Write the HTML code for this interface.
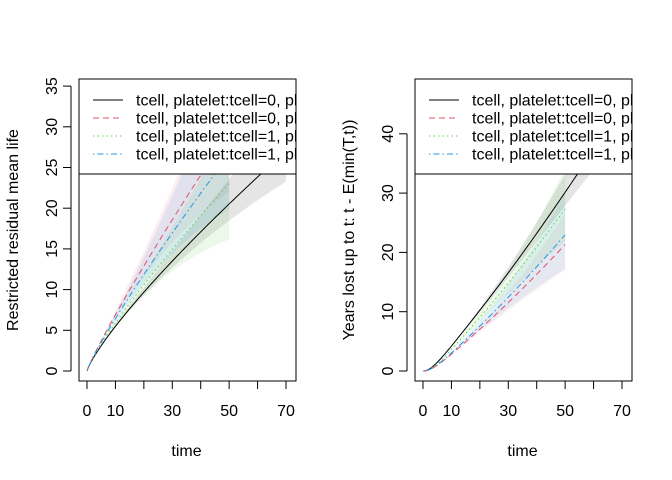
<!DOCTYPE html>
<html><head><meta charset="utf-8"><style>body{margin:0;background:#fff}svg{display:block}text{font-family:"Liberation Sans",sans-serif;fill:#000}</style></head>
<body>
<svg id="s" width="672" height="480" xmlns="http://www.w3.org/2000/svg">
<defs>
<clipPath id="c1"><rect x="79" y="79" width="217" height="302"/></clipPath>
<clipPath id="c2"><rect x="415" y="79" width="217" height="302"/></clipPath>
</defs>
<g id="g1" clip-path="url(#c1)"></g>
<g id="g2" clip-path="url(#c2)"></g>
<g id="ax"></g>
</svg>
<script>
const NS="http://www.w3.org/2000/svg";
function el(p,t,a,txt){const e=document.createElementNS(NS,t);for(const k in a)e.setAttribute(k,a[k]);if(txt!==undefined)e.textContent=txt;p.appendChild(e);return e;}
const ax=document.getElementById('ax');
function panel(g,x0,x1,y0v,ppu,yticks,ylab,series,legBot){
  const X=t=>x0+t*(x1-x0)/70, Y=v=>371-v*ppu;
  series.forEach(s=>{
    let up=[],lo=[];
    for(let t=0;t<=s.tmax;t+=1){up.push(X(t)+','+Y(s.hi(t)));lo.unshift(X(t)+','+Y(s.lo(t)));}
    el(g,'polygon',{points:up.concat(lo).join(' '),fill:s.band,'fill-opacity':s.op||0.18,stroke:'none'});
  });
  series.forEach(s=>{
    let p=[];for(let t=0;t<=s.tmax;t+=0.5)p.push(X(t)+','+Y(s.f(t)));
    el(g,'polyline',{points:p.join(' '),fill:'none',stroke:s.col,'stroke-width':1,'stroke-dasharray':s.dash||'none'});
  });
  el(g,'rect',{x:79+(x0-87),y:70,width:300,height:legBot-70,fill:'#fff',stroke:'#000','stroke-width':1});
  const L=x0-87;
  const labs=["tcell, platelet:tcell=0, platelet=0","tcell, platelet:tcell=0, platelet=1","tcell, platelet:tcell=1, platelet=0","tcell, platelet:tcell=1, platelet=1"];
  series.forEach((s,i)=>{const y=100+i*18;
    el(g,'line',{x1:93+L,x2:123+L,y1:y,y2:y,stroke:s.col,'stroke-dasharray':s.dash||'none'});
    el(g,'text',{x:136+L,y:y+5.5,'font-size':'16'},labs[i]);});
  el(ax,'rect',{x:79+L,y:79,width:217,height:302,fill:'none',stroke:'#000'});
  el(ax,'line',{x1:X(0),x2:X(70),y1:381,y2:381,stroke:'#000'});
  for(let t=0;t<=70;t+=10)el(ax,'line',{x1:X(t),x2:X(t),y1:381,y2:389,stroke:'#000'});
  [0,10,30,50,70].forEach(t=>el(ax,'text',{x:X(t),y:416,'font-size':'16','text-anchor':'middle'},t));
  el(ax,'text',{x:(X(0)+X(70))/2,y:456,'font-size':'16','text-anchor':'middle'},'time');
  const yt=yticks;
  el(ax,'line',{x1:71+L,x2:71+L,y1:Y(yt[0]),y2:Y(yt[yt.length-1]),stroke:'#000'});
  yt.forEach(v=>{el(ax,'line',{x1:63+L,x2:71+L,y1:Y(v),y2:Y(v),stroke:'#000'});
    el(ax,'text',{x:0,y:0,'font-size':'16','text-anchor':'middle',transform:`translate(${57+L},${Y(v)}) rotate(-90)`},v);});
  el(ax,'text',{x:0,y:0,'font-size':'16','text-anchor':'middle',transform:`translate(${18+L},230) rotate(-90)`},ylab);
}
const pw=(a,p)=>t=>a*Math.pow(t,p);
const bk=pw(0.83,0.82), rd=pw(0.87,0.9), gr=pw(0.83,0.85), bl=pw(0.85,0.88);
panel(document.getElementById('g1'),87,286,0,8.14,[0,5,10,15,20,25,30,35],'Restricted residual mean life',[
 {f:bk,tmax:70,col:'#000',band:'#888',op:0.22,hi:t=>bk(t)*(1+0.003*t),lo:t=>bk(t)*(1-0.002*t)},
 {f:rd,tmax:50,col:'#DF536B',dash:'6,4',band:'#DF536B',op:0.1,hi:t=>rd(t)*(1+0.007*t),lo:t=>rd(t)*(1-0.005*t)},
 {f:gr,tmax:50,col:'#61D04F',dash:'1.5,3',band:'#61D04F',op:0.12,hi:t=>gr(t)*(1+0.006*t),lo:t=>gr(t)*(1-0.006*t)},
 {f:bl,tmax:50,col:'#2297E6',dash:'1.5,3,6,3',band:'#2297E6',op:0.12,hi:t=>bl(t)*(1+0.009*t),lo:t=>bl(t)*(1-0.005*t)}
],174);
const ry=(a,p)=>t=>a*Math.pow(t,p)*(1-Math.exp(-t/4));
const bk2=ry(0.31,1.17), rd2=ry(0.195,1.2), gr2=ry(0.25,1.2), bl2=ry(0.21,1.2);
panel(document.getElementById('g2'),423,622,0,5.93,[0,10,20,30,40],'Years lost up to t: t - E(min(T,t))',[
 {f:bk2,tmax:62,col:'#000',band:'#888',op:0.22,hi:t=>bk2(t)*(1+0.002*t),lo:t=>bk2(t)*(1-0.0015*t)},
 {f:rd2,tmax:50,col:'#DF536B',dash:'6,4',band:'#DF536B',op:0.08,hi:t=>rd2(t)*(1+0.005*t),lo:t=>rd2(t)*(1-0.004*t)},
 {f:gr2,tmax:50,col:'#61D04F',dash:'1.5,3',band:'#61D04F',op:0.12,hi:t=>gr2(t)*(1+0.005*t),lo:t=>gr2(t)*(1-0.004*t)},
 {f:bl2,tmax:50,col:'#2297E6',dash:'1.5,3,6,3',band:'#2297E6',op:0.1,hi:t=>bl2(t)*(1+0.006*t),lo:t=>bl2(t)*(1-0.005*t)}
],174);
</script>
</body></html>
